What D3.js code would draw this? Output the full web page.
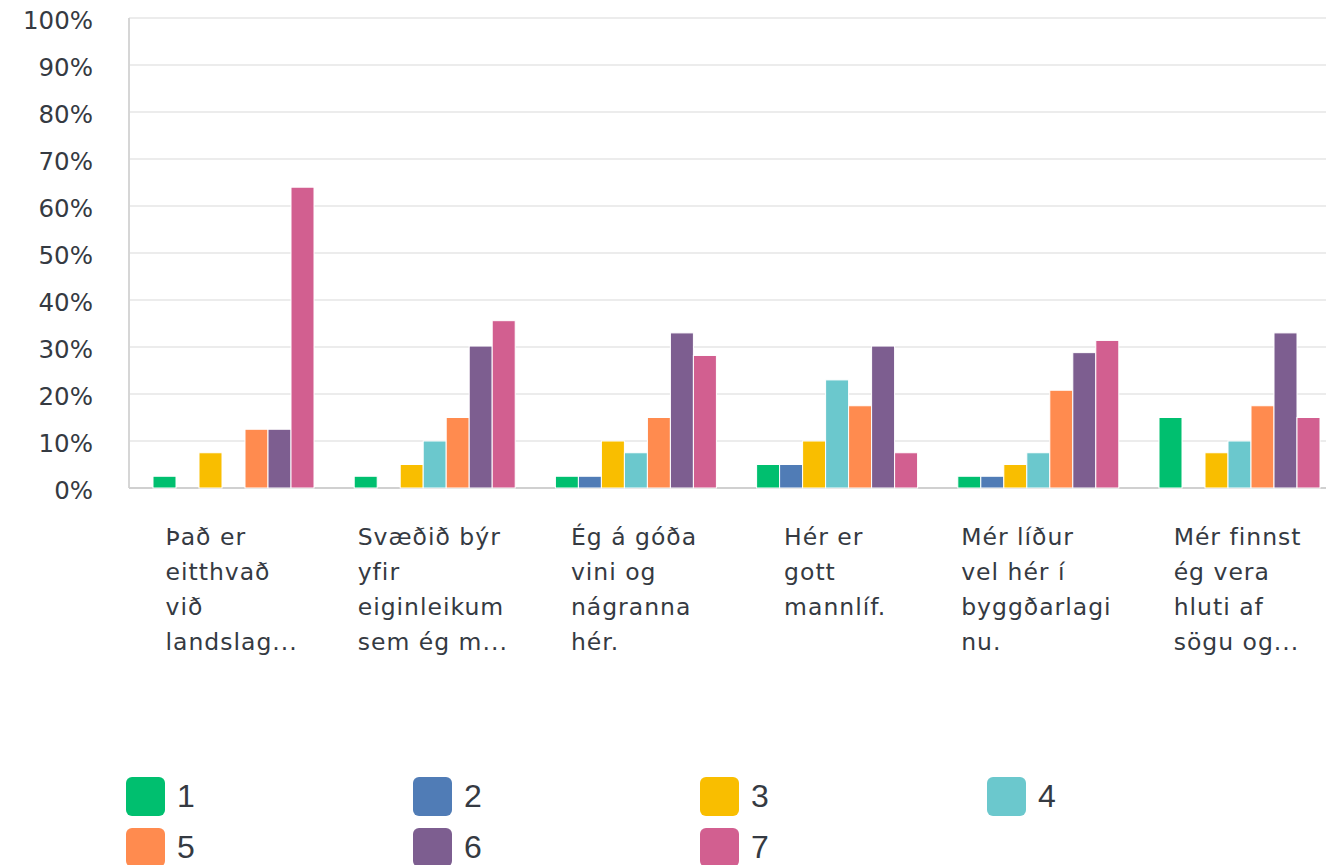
<!DOCTYPE html>
<html><head><meta charset="utf-8">
<script src="https://cdn.jsdelivr.net/npm/d3@7"></script>
<style>body{margin:0;background:#fff;}svg{display:block;}</style>
</head><body>
<svg id="c" width="1326" height="865"></svg>
<script>
const categories = ["Það er eitthvað við landslag...", "Svæðið býr yfir eiginleikum sem ég m...", "Ég á góða vini og nágranna hér.", "Hér er gott mannlíf.", "Mér líður vel hér í byggðarlagi nu.", "Mér finnst ég vera hluti af sögu og..."];
const categoryLines = [
  ["Það er", "eitthvað", "við", "landslag..."],
  ["Svæðið býr", "yfir", "eiginleikum", "sem ég m..."],
  ["Ég á góða", "vini og", "nágranna", "hér."],
  ["Hér er", "gott", "mannlíf."],
  ["Mér líður", "vel hér í", "byggðarlagi", "nu."],
  ["Mér finnst", "ég vera", "hluti af", "sögu og..."]
];
const seriesNames = ["1", "2", "3", "4", "5", "6", "7"];
const seriesColors = ["#00bf6f", "#507cb6", "#f9be00", "#6bc8cd", "#ff8b4f", "#7d5e90", "#d25f90"];
// values in percent, one array per series (across categories)
const s1 = [2.5, 2.5, 2.5, 5.0, 2.5, 15.0];
const s2 = [0, 0, 2.5, 5.0, 2.5, 0];
const s3 = [7.5, 5.0, 10.0, 10.0, 5.0, 7.5];
const s4 = [0, 10.0, 7.5, 23.0, 7.5, 10.0];
const s5 = [12.5, 15.0, 15.0, 17.5, 20.8, 17.5];
const s6 = [12.5, 30.2, 33.0, 30.2, 28.8, 33.0];
const s7 = [64.0, 35.6, 28.2, 7.5, 31.4, 15.0];
const seriesValues = [s1, s2, s3, s4, s5, s6, s7];
const yTicks = [0, 10, 20, 30, 40, 50, 60, 70, 80, 90, 100];

const svg = d3.select("#c");
const left = 129, step = 201.2;
const x0 = d3.scaleBand().domain(categories).range([left, left + step * categories.length]).padding(0);
const x1 = d3.scaleBand().domain(seriesNames).range([24, 185]).padding(0);
const y = d3.scaleLinear().domain([0, 100]).range([488, 18]);

// gridlines
svg.append("g").selectAll("line").data(yTicks.filter(d => d > 0)).join("line")
  .attr("x1", left).attr("x2", 1326).attr("y1", d => y(d)).attr("y2", d => y(d))
  .attr("stroke", "#ececec").attr("stroke-width", 2);
// left axis line and baseline
svg.append("line").attr("x1", left).attr("x2", left).attr("y1", y(100)).attr("y2", y(0))
  .attr("stroke", "#d6d6d6").attr("stroke-width", 2);
svg.append("line").attr("x1", left).attr("x2", 1326).attr("y1", y(0)).attr("y2", y(0))
  .attr("stroke", "#d0d0d0").attr("stroke-width", 2);

// y labels
const yAxis = d3.axisLeft(y).tickValues(yTicks).tickFormat(d => d + "%").tickSize(0).tickPadding(0);
const ya = svg.append("g").attr("transform", "translate(93,3)").call(yAxis);
ya.select(".domain").remove();
ya.selectAll("text").attr("font-family", "DejaVu Sans").attr("font-size", 24.5).attr("fill", "#353a42");

// bars
const groups = svg.append("g").selectAll("g").data(categories).join("g")
  .attr("transform", d => `translate(${x0(d)},0)`);
groups.selectAll("rect").data((c, ci) => seriesNames.map((s, si) => ({s, si, v: seriesValues[si][ci]})))
  .join("rect")
  .filter(d => d.v > 0)
  .attr("x", d => x1(d.s)).attr("width", x1.bandwidth())
  .attr("y", d => y(d.v)).attr("height", d => y(0) - y(d.v))
  .attr("fill", d => seriesColors[d.si]).attr("stroke", "#fff").attr("stroke-width", 1);

// category labels
categories.forEach((c, ci) => {
  const g = svg.append("g");
  const t = g.append("text").attr("font-family", "DejaVu Sans").attr("font-size", 23.5)
    .attr("letter-spacing", "1px").attr("fill", "#353a42");
  categoryLines[ci].forEach((ln, li) => {
    t.append("tspan").attr("x", 0).attr("y", 545 + li * 35).text(ln);
  });
  const w = t.node().getBBox().width;
  const cx = x0(c) + x0.bandwidth() / 2 + 2;
  g.attr("transform", `translate(${cx - w / 2},0)`);
});

// legend
const lg = svg.append("g");
seriesNames.forEach((s, i) => {
  const col = i % 4, row = Math.floor(i / 4);
  const gx = 126 + col * 287, gy = 777 + row * 51;
  lg.append("rect").attr("x", gx).attr("y", gy).attr("width", 39).attr("height", 39)
    .attr("rx", 6).attr("fill", seriesColors[i]);
  lg.append("text").attr("x", gx + 51).attr("y", gy + 30).attr("font-family", "Liberation Sans")
    .attr("font-size", 32).attr("fill", "#353a42").text(s);
});
</script>
</body></html>
